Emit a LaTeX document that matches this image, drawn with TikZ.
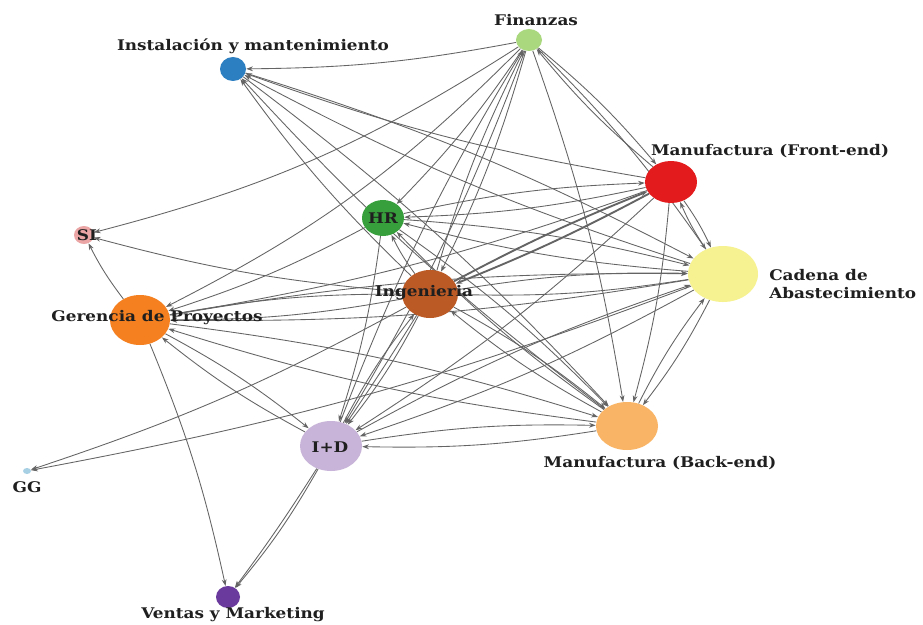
\documentclass[tikz,border=0pt]{standalone}
\usepackage{fontspec}
\newfontfamily\lblfont[FakeStretch=1.15]{DejaVu Serif}
\usetikzlibrary{shapes.geometric,arrows.meta}
\pgfdeclarelayer{bg}
\pgfsetlayers{bg,main}
\definecolor{cF}{HTML}{A9D87E}
\definecolor{cInst}{HTML}{2C80C2}
\definecolor{cMFE}{HTML}{E31B1C}
\definecolor{cHR}{HTML}{37A03C}
\definecolor{cSI}{HTML}{EBA5A5}
\definecolor{cCad}{HTML}{F6F291}
\definecolor{cIng}{HTML}{BC5A26}
\definecolor{cGer}{HTML}{F48020}
\definecolor{cID}{HTML}{C8B4D8}
\definecolor{cMBE}{HTML}{F9B565}
\definecolor{cGG}{HTML}{A8D0E4}
\definecolor{cV}{HTML}{6A3A9C}
\definecolor{edgec}{HTML}{646464}
\begin{document}
\begin{tikzpicture}[x=0.75pt,y=-0.75pt,
  vtx/.style={ellipse,draw=none,inner sep=0pt},
  lbl/.style={font=\lblfont\bfseries\fontsize{11}{14}\selectfont,text=black!88,inner sep=0pt},
  edge/.style={draw=edgec,line width=0.65pt,-{Stealth[length=5pt,width=3.6pt]}},
  heavy/.style={line width=1.4pt}]
\useasboundingbox (0,0) rectangle (923,624);
% vertices
\node[vtx,fill=cF,minimum width=19.5pt,minimum height=16.5pt] (F) at (529,40) {};
\node[vtx,fill=cInst,minimum width=19.5pt,minimum height=18pt] (Inst) at (233,69) {};
\node[vtx,fill=cMFE,minimum width=39pt,minimum height=31.5pt] (MFE) at (671,182) {};
\node[vtx,fill=cHR,minimum width=31.5pt,minimum height=27pt] (HR) at (383,218) {};
\node[vtx,fill=cSI,minimum width=15pt,minimum height=13.5pt] (SI) at (84,235) {};
\node[vtx,fill=cCad,minimum width=52.5pt,minimum height=42pt] (Cad) at (723,274) {};
\node[vtx,fill=cIng,minimum width=42pt,minimum height=36pt] (Ing) at (430,294) {};
\node[vtx,fill=cGer,minimum width=45pt,minimum height=37.5pt] (Ger) at (140,320) {};
\node[vtx,fill=cID,minimum width=46.5pt,minimum height=37.5pt] (ID) at (331,446) {};
\node[vtx,fill=cMBE,minimum width=46.5pt,minimum height=36pt] (MBE) at (627,426) {};
\node[vtx,fill=cGG,minimum width=6pt,minimum height=4.5pt] (GG) at (27,471) {};
\node[vtx,fill=cV,minimum width=18pt,minimum height=16.5pt] (V) at (228,597) {};
% edges
\begin{pgfonlayer}{bg}
\fill[white] (0,0) rectangle (923,624);
\foreach \a/\b in {F/Inst,F/HR,F/Ing,Ing/F,F/ID,ID/F,F/MFE,MFE/F,F/MBE,F/Cad,
  MFE/Inst,Cad/Inst,Ing/Inst,MBE/Inst,
  Ing/SI,Ger/SI,Ing/GG,Cad/GG,
  MFE/HR,HR/MFE,Cad/HR,Ing/HR,MBE/HR,HR/Ger,HR/ID,HR/MBE,HR/Cad,
  Cad/Ing,Ing/Cad,Ing/Ger,Ger/Ing,Ing/ID,ID/Ing,Ing/MBE,MBE/Ing,
  MFE/Ger,Cad/Ger,MBE/Ger,Ger/ID,ID/Ger,Ger/V,Ger/MBE,Ger/Cad,
  MFE/ID,Cad/ID,MBE/ID,ID/MBE,ID/V,
  MFE/MBE,Cad/MBE,MBE/Cad,MFE/Cad,Cad/MFE,ID/Cad,Inst/MBE,Inst/Cad}
  \draw[edge] (\a) to[bend left=5] (\b);
\draw[edge] (F) to[bend left=9] (SI);
\draw[edge] (F) to[bend left=9] (Ger);
\draw[edge] (ID) to[bend left=2] (V);
\draw[edge,heavy] (MFE) to[bend left=3] (Ing);
\draw[edge,heavy] (Ing) to[bend left=3] (MFE);
\draw[edge] (Ing) to[bend left=1] (ID);
\end{pgfonlayer}
% labels
\node[lbl] (lF) at (536,20) {Finanzas};
\node[lbl] (lInst) at (253,46) {Instalación y mantenimiento};
\node[lbl] (lMFE) at (770,151) {Manufactura (Front-end)};
\node[lbl] (lHR) at (383,218) {HR};
\node[lbl] (lSI) at (87,235) {SI};
\node[lbl,align=left,anchor=west] (lCad) at (769,284) {Cadena de\\Abastecimiento};
\node[lbl] (lIng) at (424,293) {Ingenieria};
\node[lbl] (lGer) at (157,318) {Gerencia de Proyectos};
\node[lbl] (lID) at (330,447) {I+D};
\node[lbl] (lMBE) at (660,463) {Manufactura (Back-end)};
\node[lbl] (lGG) at (27,487) {GG};
\node[lbl] (lV) at (233,615) {Ventas y Marketing};
\end{tikzpicture}
\end{document}
